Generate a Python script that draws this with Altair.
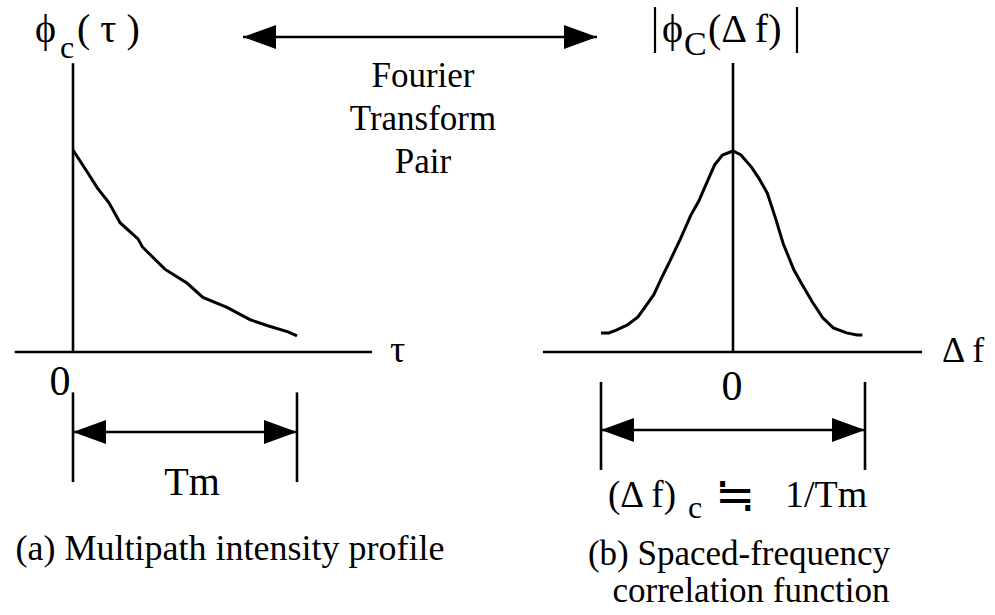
import altair as alt
import pandas as pd

# ---- (a) multipath intensity profile: delay in units of Tm, normalised power
tau = [0.0, 0.07, 0.11, 0.16, 0.21, 0.29, 0.31, 0.41, 0.51, 0.58, 0.69, 0.74, 0.79, 0.87, 0.96, 1.0]
phi_tau = [1.0, 0.88, 0.81, 0.74, 0.64, 0.56, 0.52, 0.41, 0.34, 0.27, 0.22, 0.19, 0.16, 0.13, 0.10, 0.08]

# ---- (b) spaced-frequency correlation: separation in units of 1/Tm
delta_f = [-0.50, -0.47, -0.44, -0.40, -0.36, -0.33, -0.30, -0.27, -0.24, -0.20,
           -0.16, -0.13, -0.10, -0.07, -0.04, 0.0, 0.03, 0.07, 0.10, 0.13,
           0.16, 0.19, 0.23, 0.26, 0.30, 0.34, 0.38, 0.43, 0.47, 0.49]
phi_df = [0.095, 0.095, 0.11, 0.135, 0.175, 0.23, 0.285, 0.37, 0.45, 0.56,
          0.68, 0.75, 0.84, 0.93, 0.98, 1.0, 0.98, 0.92, 0.86, 0.79,
          0.67, 0.54, 0.41, 0.34, 0.25, 0.17, 0.12, 0.095, 0.085, 0.085]

FONT = "Liberation Serif"
INK = "#000000"
HEAD = "M0,0L-2,-0.73L-2,0.73Z"   # right-pointing arrowhead, tip at the anchor


def lin(domain, rng):
    return alt.Scale(domain=domain, range=rng, nice=False, zero=False)


def panel(curve, segs, heads, xs, ys):
    """Curve + axes + dimension marker drawn on one panel's own scales."""
    line = alt.Chart(curve).mark_line(color=INK, strokeWidth=3).encode(
        x=alt.X("u:Q", scale=xs, axis=None),
        y=alt.Y("v:Q", scale=ys, axis=None),
        order="i:Q",
    )
    rules = alt.Chart(segs).mark_rule(color=INK, strokeWidth=2.6).encode(
        x=alt.X("x1:Q", scale=xs, axis=None), x2="x2:Q",
        y=alt.Y("y1:Q", scale=ys, axis=None), y2="y2:Q",
    )
    tips = alt.Chart(heads).mark_point(
        shape=HEAD, filled=True, size=1089, color=INK, opacity=1, strokeWidth=0
    ).encode(
        x=alt.X("x:Q", scale=xs, axis=None),
        y=alt.Y("y:Q", scale=ys, axis=None),
        angle=alt.Angle("a:Q", scale=None),
    )
    return alt.layer(line, rules, tips)


# left panel: tau axis, phi_c(tau) axis and the Tm span
left = panel(
    pd.DataFrame({"u": tau, "v": phi_tau, "i": range(len(tau))}),
    pd.DataFrame({
        "x1": [0, -0.26, 0, 1, 0],
        "x2": [0, 1.335, 0, 1, 1],
        "y1": [0, 0, -0.20, -0.20, -0.396],
        "y2": [1.43, 0, -0.644, -0.644, -0.396],
    }),
    pd.DataFrame({"x": [0, 1], "y": [-0.396, -0.396], "a": [180, 0]}),
    lin([0, 1], [73, 297]),
    lin([0, 1], [352, 150]),
)

# right panel: delta-f axis, |phi_C(delta f)| axis and the coherence-bandwidth span
right = panel(
    pd.DataFrame({"u": delta_f, "v": phi_df, "i": range(len(delta_f))}),
    pd.DataFrame({
        "x1": [0, -0.72, -0.5, 0.5, -0.5],
        "x2": [0, 0.716, -0.5, 0.5, 0.5],
        "y1": [0, 0, -0.149, -0.149, -0.388],
        "y2": [1.438, 0, -0.587, -0.587, -0.388],
    }),
    pd.DataFrame({"x": [-0.5, 0.5], "y": [-0.388, -0.388], "a": [180, 0]}),
    lin([-0.5, 0.5], [601, 865]),
    lin([0, 1], [352, 151]),
)

# page layer: the transform-pair connector, magnitude bars and all lettering
cx = lin([0, 995], [0, 995])
cy = lin([0, 615], [0, 615])

connector = alt.Chart(pd.DataFrame({
    "x1": [243, 655, 797], "x2": [597, 655, 797],
    "y1": [37, 7, 7], "y2": [37, 53, 53], "w": [2.6, 2.2, 2.2],
})).mark_rule(color=INK).encode(
    x=alt.X("x1:Q", scale=cx, axis=None), x2="x2:Q",
    y=alt.Y("y1:Q", scale=cy, axis=None), y2="y2:Q",
    strokeWidth=alt.StrokeWidth("w:Q", scale=None),
)
connector_tips = alt.Chart(pd.DataFrame({"x": [243, 597], "y": [37, 37], "a": [180, 0]})).mark_point(
    shape=HEAD, filled=True, size=1089, color=INK, opacity=1, strokeWidth=0
).encode(
    x=alt.X("x:Q", scale=cx, axis=None),
    y=alt.Y("y:Q", scale=cy, axis=None),
    angle=alt.Angle("a:Q", scale=None),
)

# (text, x, baseline y, font size, alignment)
lettering = [
    ("ϕ", 35, 42, 40, "left"), ("c", 60, 58, 32, "left"), ("( τ )", 77, 42, 40, "left"),
    ("ϕ", 662, 42, 40, "left"), ("C", 684, 55, 34, "left"), ("(Δ f)", 708, 42, 40, "left"),
    ("τ", 390, 362, 38, "left"), ("Δ f", 942, 362, 36, "left"),
    ("(Δ f)", 608, 507, 37, "left"), ("c", 688, 518, 32, "left"),
    ("≒", 715, 511, 48, "left"), ("1/Tm", 785, 507, 38, "left"),
    ("0", 60, 395, 42, "center"), ("0", 732, 400, 42, "center"), ("Tm", 192, 495, 40, "center"),
    ("Fourier", 423, 87, 35, "center"), ("Transform", 423, 130, 35, "center"), ("Pair", 423, 173, 35, "center"),
    ("(a) Multipath intensity profile", 230, 560, 36, "center"),
    ("(b) Spaced-frequency", 739, 565, 35, "center"),
    ("correlation function", 751, 602, 35, "center"),
]

text_layers = []
for label, x, y, fs, al in lettering:
    text_layers.append(
        alt.Chart(pd.DataFrame({"t": [label], "x": [x], "y": [y]})).mark_text(
            font=FONT, fontSize=fs, align=al, baseline="alphabetic", color=INK
        ).encode(
            x=alt.X("x:Q", scale=cx, axis=None),
            y=alt.Y("y:Q", scale=cy, axis=None),
            text="t:N",
        )
    )

page = alt.layer(connector, connector_tips, *text_layers)

chart = (
    alt.layer(left, right, page)
    .resolve_scale(x="independent", y="independent")
    .properties(width=995, height=615, padding=0, autosize="none", background="white")
    .configure_view(strokeWidth=0)
)

chart.save("out.html", embed_options={"renderer": "svg", "actions": False})
